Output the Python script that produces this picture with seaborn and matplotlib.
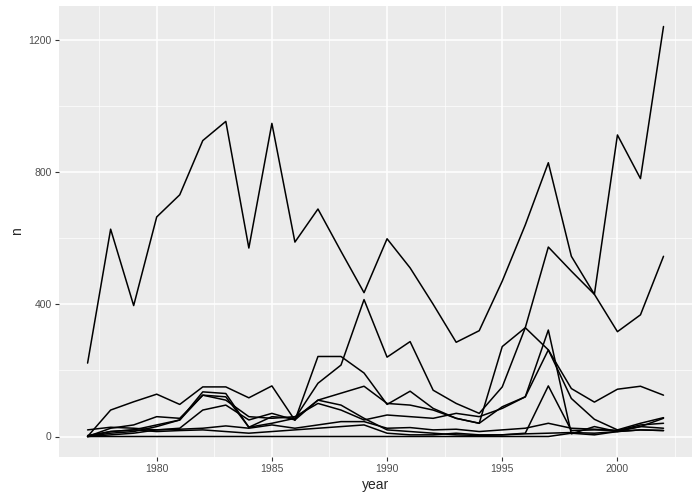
import numpy as np
import pandas as pd
import matplotlib
matplotlib.use("Agg")
import matplotlib.pyplot as plt
import seaborn as sns

# Years on the x axis
years = list(range(1977, 2003))

# Counts per group
n_a = [222, 627, 396, 664, 731, 895, 953, 570, 947, 588, 688, 560, 435, 598, 510, 400, 285, 320, 470, 640, 828, 545, 430, 912, 780, 1240]
n_b = [3, 15, 20, 35, 50, 125, 120, 28, 60, 55, 161, 216, 414, 240, 287, 140, 100, 70, 150, 329, 573, 500, 430, 317, 368, 545]
n_c = [0, 80, 105, 128, 97, 150, 150, 117, 153, 49, 242, 242, 192, 97, 137, 85, 55, 40, 272, 329, 262, 145, 104, 143, 152, 125]
n_d = [20, 28, 25, 20, 22, 25, 32, 25, 35, 25, 35, 45, 45, 25, 27, 20, 22, 15, 20, 25, 40, 25, 22, 18, 35, 40]
n_e = [0, 10, 15, 30, 50, 135, 130, 28, 40, 55, 110, 95, 55, 20, 15, 10, 5, 3, 5, 10, 153, 18, 20, 18, 30, 25]
n_f = [0, 25, 35, 60, 55, 125, 110, 60, 55, 60, 100, 80, 50, 65, 60, 55, 70, 60, 85, 120, 262, 115, 52, 20, 40, 57]
n_g = [0, 5, 10, 20, 25, 80, 95, 50, 70, 50, 110, 131, 152, 100, 95, 80, 55, 40, 90, 120, 322, 8, 30, 15, 20, 18]
n_h = [0, 0, 0, 0, 0, 0, 0, 0, 0, 0, 0, 0, 0, 0, 0, 0, 0, 0, 0, 0, 0, 10, 5, 15, 30, 55]
n_i = [0, 15, 20, 15, 18, 20, 15, 10, 15, 20, 25, 30, 35, 10, 5, 5, 10, 5, 5, 8, 10, 12, 10, 15, 20, 18]

groups = {"a": n_a, "b": n_b, "c": n_c, "d": n_d, "e": n_e,
          "f": n_f, "g": n_g, "h": n_h, "i": n_i}

# Build a long table
df = pd.concat(
    [pd.DataFrame({"year": years, "n": vals, "group": name}) for name, vals in groups.items()],
    ignore_index=True)

# ggplot-like gray theme
sns.set_style("darkgrid", {
    "axes.facecolor": "#EBEBEB",
    "grid.color": "white",
    "axes.edgecolor": "#EBEBEB",
})
plt.rcParams["font.family"] = ["Liberation Sans", "DejaVu Sans"]

fig, ax = plt.subplots(figsize=(7, 5), dpi=100)
fig.subplots_adjust(left=0.084, right=0.989, top=0.988, bottom=0.086)

sns.lineplot(data=df, x="year", y="n", units="group", estimator=None,
             color="black", linewidth=1.1, ax=ax)

# Scales with ggplot's 5% expansion
ax.set_xlim(1977 - 1.25, 2002 + 1.25)
ax.set_ylim(-62, 1302)
ax.set_xticks([1980, 1985, 1990, 1995, 2000])
ax.set_yticks([0, 400, 800, 1200])
ax.set_xticks([1977.5, 1982.5, 1987.5, 1992.5, 1997.5, 2002.5], minor=True)
ax.set_yticks([200, 600, 1000], minor=True)
ax.grid(which="major", color="white", linewidth=1.1)
ax.grid(which="minor", color="white", linewidth=0.5)

ax.tick_params(axis="both", which="major", length=3, width=0.8, color="#333333",
               labelsize=7.5, labelcolor="#4D4D4D", bottom=True, left=True, pad=2)
ax.tick_params(axis="both", which="minor", length=0)
for s in ax.spines.values():
    s.set_visible(False)

ax.set_xlabel("year", fontsize=10, labelpad=3)
ax.set_ylabel("n", fontsize=10, labelpad=3)

fig.savefig("out.png", dpi=100)
